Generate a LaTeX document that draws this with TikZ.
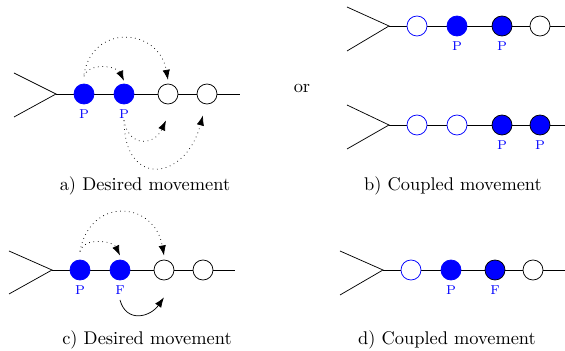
\documentclass[tikz,border=0pt]{standalone}
\usetikzlibrary{positioning,arrows.meta,calc}

\begin{document}
\begin{tikzpicture}[x=0.544pt, y=-0.544pt,
  bead/.style={circle, draw, fill=white, minimum size=10.9pt, inner sep=0pt},
  pbead/.style={bead, draw=blue, fill=blue},
  pbeadk/.style={bead, fill=blue},
  hole/.style={bead, draw=blue},
  lbl/.style={font=\scriptsize, text=blue, inner sep=1pt},
  hop/.style={dotted, -{Latex[length=5.5pt, width=4pt]}},
  move/.style={-{Latex[length=5.5pt, width=4pt]}}]
  \useasboundingbox (0,0) rectangle (565,351);

  % a) desired movement
  \coordinate (ya) at (56,94);
  \draw (14,73) -- (ya) -- (14,117);
  \draw (ya) -- (240,94);
  \foreach \n/\x/\s in {1/84/pbead, 2/124/pbead, 3/168/bead, 4/207/bead}
    \node[\s] (a\n) at (\x,94) {};
  \node[lbl, below=1.5pt of a1] (pa1) {P};
  \node[lbl, below=1.5pt of a2] (pa2) {P};
  \draw[hop] ([yshift=4pt]a1.north) to[out=70, in=115] ([yshift=1.5pt]a2.north);
  \draw[hop] ([yshift=5pt]a1.north) to[out=80, in=100, looseness=1.6] ([yshift=2pt]a3.north);
  \draw[hop] (pa2.south) to[out=-80, in=-115, looseness=1.7] ($(a3.south)+(-2,16)$);
  \draw[hop] (pa2.south) to[out=-90, in=-105, looseness=2.2] ($(a4.south)+(-4,11)$);
  \node (capa) at (145,186) {a) Desired movement};

  \node (or) at (302,88) {or};

  % b) coupled movement, first case
  \coordinate (yb) at (389,26);
  \draw (347,7) -- (yb) -- (347,51);
  \draw (yb) -- (565,26);
  \foreach \n/\x/\s in {1/417/hole, 2/457/pbead, 3/502/pbeadk, 4/540/bead}
    \node[\s] (b\n) at (\x,26) {};
  \node[lbl, below=1.5pt of b2] (pb2) {P};
  \node[lbl, below=1.5pt of b3] (pb3) {P};

  % b) coupled movement, second case
  \coordinate (yB) at (389,125);
  \draw (347,105) -- (yB) -- (347,149);
  \draw (yB) -- (565,125);
  \foreach \n/\x/\s in {1/417/hole, 2/457/hole, 3/502/pbeadk, 4/540/pbeadk}
    \node[\s] (B\n) at (\x,125) {};
  \node[lbl, below=1.5pt of B3] (pB3) {P};
  \node[lbl, below=1.5pt of B4] (pB4) {P};
  \node (capb) at (453,186) {b) Coupled movement};

  % c) desired movement
  \coordinate (yc) at (52,270);
  \draw (9,251) -- (yc) -- (9,294);
  \draw (yc) -- (235,270);
  \foreach \n/\x/\s in {1/80/pbead, 2/120/pbead, 3/164/bead, 4/203/bead}
    \node[\s] (c\n) at (\x,270) {};
  \node[lbl, below=1.5pt of c1] (pc1) {P};
  \node[lbl, below=1.5pt of c2] (pc2) {F};
  \draw[hop] ([yshift=4.4pt]c1.north) to[out=75, in=115] ([yshift=2.2pt]c2.north);
  \draw[hop] ([yshift=4.4pt]c1.north) to[out=80, in=100, looseness=1.7] ([yshift=2.2pt]c3.north);
  \draw[move] ([yshift=-2pt]pc2.south) to[out=-75, in=-125, looseness=1.4] ($(c3.south)+(0,17)$);
  \node (capc) at (147,340) {c) Desired movement};

  % d) coupled movement
  \coordinate (yd) at (383,270);
  \draw (340,251) -- (yd) -- (340,295);
  \draw (yd) -- (565,270);
  \foreach \n/\x/\s in {1/411/hole, 2/451/pbead, 3/495/pbeadk, 4/533/bead}
    \node[\s] (d\n) at (\x,270) {};
  \node[lbl, below=1.5pt of d2] (pd2) {P};
  \node[lbl, below=1.5pt of d3] (pd3) {F};
  \node (capd) at (447,340) {d) Coupled movement};
\end{tikzpicture}
\end{document}
